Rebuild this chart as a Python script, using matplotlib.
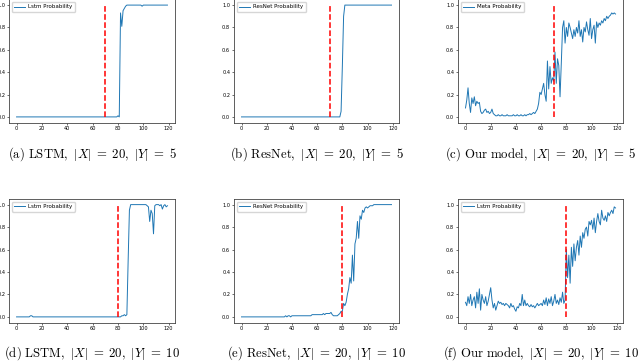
import numpy as np
import matplotlib
matplotlib.use("Agg")
import matplotlib.pyplot as plt

plt.rcParams['mathtext.fontset'] = 'cm'

# series values (x = 0 .. 119)
lstm_y5 = [0.0, 0.0, 0.0, 0.0, 0.0, 0.0, 0.0, 0.0, 0.0, 0.0,
           0.0, 0.0, 0.0, 0.0, 0.0, 0.0, 0.0, 0.0, 0.0, 0.0,
           0.0, 0.0, 0.0, 0.0, 0.0, 0.0, 0.0, 0.0, 0.0, 0.0,
           0.0, 0.0, 0.0, 0.0, 0.0, 0.0, 0.0, 0.0, 0.0, 0.0,
           0.0, 0.0, 0.0, 0.0, 0.0, 0.0, 0.0, 0.0, 0.0, 0.0,
           0.0, 0.0, 0.0, 0.0, 0.0, 0.0, 0.0, 0.0, 0.0, 0.0,
           0.0, 0.0, 0.0, 0.0, 0.0, 0.0, 0.0, 0.0, 0.0, 0.0,
           0.0, 0.0, 0.0, 0.0, 0.0, 0.0, 0.0, 0.0, 0.0, 0.0,
           0.01, 0.0, 0.93, 0.81, 0.95, 0.97, 0.99, 1.0, 1.0, 1.0,
           1.0, 1.0, 1.0, 1.0, 1.0, 1.0, 1.0, 1.0, 1.0, 0.99,
           1.0, 1.0, 1.0, 1.0, 1.0, 1.0, 1.0, 1.0, 1.0, 1.0,
           1.0, 1.0, 1.0, 1.0, 1.0, 1.0, 1.0, 1.0, 1.0, 1.0]

resnet_y5 = [0.0, 0.0, 0.0, 0.0, 0.0, 0.0, 0.0, 0.0, 0.0, 0.0,
             0.0, 0.0, 0.0, 0.0, 0.0, 0.0, 0.0, 0.0, 0.0, 0.0,
             0.0, 0.0, 0.0, 0.0, 0.0, 0.0, 0.0, 0.0, 0.0, 0.0,
             0.0, 0.0, 0.0, 0.0, 0.0, 0.0, 0.0, 0.0, 0.0, 0.0,
             0.0, 0.0, 0.0, 0.0, 0.0, 0.0, 0.0, 0.0, 0.0, 0.0,
             0.0, 0.0, 0.0, 0.0, 0.0, 0.0, 0.0, 0.0, 0.0, 0.0,
             0.0, 0.0, 0.0, 0.0, 0.0, 0.0, 0.0, 0.0, 0.0, 0.0,
             0.0, 0.0, 0.0, 0.0, 0.0, 0.0, 0.0, 0.0, 0.0, 0.05,
             0.45, 0.9, 1.0, 1.0, 1.0, 1.0, 1.0, 1.0, 1.0, 1.0,
             1.0, 1.0, 1.0, 1.0, 1.0, 1.0, 1.0, 1.0, 1.0, 1.0,
             1.0, 1.0, 1.0, 1.0, 1.0, 1.0, 1.0, 1.0, 1.0, 1.0,
             1.0, 1.0, 1.0, 1.0, 1.0, 1.0, 1.0, 1.0, 1.0, 1.0]

meta_y5 = [0.08, 0.15, 0.26, 0.12, 0.04, 0.17, 0.12, 0.18, 0.10, 0.14,
           0.12, 0.13, 0.05, 0.03, 0.04, 0.06, 0.07, 0.04, 0.05, 0.03,
           0.04, 0.07, 0.03, 0.02, 0.01, 0.01, 0.02, 0.01, 0.01, 0.02,
           0.01, 0.01, 0.01, 0.02, 0.01, 0.01, 0.01, 0.01, 0.02, 0.01,
           0.01, 0.02, 0.01, 0.01, 0.02, 0.01, 0.01, 0.02, 0.01, 0.02,
           0.02, 0.03, 0.02, 0.03, 0.04, 0.03, 0.05, 0.07, 0.12, 0.22,
           0.20, 0.25, 0.30, 0.20, 0.14, 0.50, 0.25, 0.45, 0.30, 0.35,
           0.32, 0.58, 0.30, 0.52, 0.46, 0.18, 0.48, 0.80, 0.86, 0.66,
           0.80, 0.72, 0.84, 0.80, 0.75, 0.70, 0.78, 0.72, 0.80, 0.75,
           0.86, 0.72, 0.78, 0.67, 0.80, 0.76, 0.85, 0.78, 0.73, 0.88,
           0.70, 0.78, 0.82, 0.66, 0.85, 0.80, 0.84, 0.82, 0.86, 0.84,
           0.88, 0.86, 0.90, 0.88, 0.90, 0.91, 0.93, 0.92, 0.93, 0.92]

lstm_y10 = [0.0, 0.0, 0.0, 0.0, 0.0, 0.0, 0.0, 0.0, 0.0, 0.0,
            0.0, 0.01, 0.01, 0.0, 0.0, 0.0, 0.0, 0.0, 0.0, 0.0,
            0.0, 0.0, 0.0, 0.0, 0.0, 0.0, 0.0, 0.0, 0.0, 0.0,
            0.0, 0.0, 0.0, 0.0, 0.0, 0.0, 0.0, 0.0, 0.0, 0.0,
            0.0, 0.0, 0.0, 0.0, 0.0, 0.0, 0.0, 0.0, 0.0, 0.0,
            0.0, 0.0, 0.0, 0.0, 0.0, 0.0, 0.0, 0.0, 0.0, 0.0,
            0.0, 0.0, 0.0, 0.0, 0.0, 0.0, 0.0, 0.0, 0.0, 0.0,
            0.0, 0.0, 0.0, 0.0, 0.0, 0.0, 0.0, 0.0, 0.0, 0.0,
            0.0, 0.0, 0.0, 0.01, 0.01, 0.02, 0.01, 0.02, 0.5, 0.95,
            1.0, 1.0, 1.0, 1.0, 1.0, 1.0, 1.0, 1.0, 1.0, 1.0,
            1.0, 1.0, 1.0, 0.99, 0.98, 0.85, 0.95, 0.92, 0.74, 0.99,
            1.0, 1.0, 1.0, 0.99, 1.0, 0.96, 0.99, 1.0, 0.98, 0.99]

resnet_y10 = [0.0, 0.0, 0.0, 0.0, 0.0, 0.0, 0.0, 0.0, 0.0, 0.0,
              0.0, 0.0, 0.0, 0.0, 0.0, 0.0, 0.0, 0.0, 0.0, 0.0,
              0.0, 0.0, 0.0, 0.0, 0.0, 0.0, 0.0, 0.0, 0.0, 0.0,
              0.0, 0.0, 0.0, 0.0, 0.0, 0.01, 0.0, 0.01, 0.01, 0.0,
              0.01, 0.01, 0.01, 0.01, 0.01, 0.01, 0.01, 0.01, 0.01, 0.01,
              0.01, 0.01, 0.01, 0.01, 0.01, 0.01, 0.02, 0.02, 0.02, 0.02,
              0.02, 0.02, 0.02, 0.02, 0.02, 0.03, 0.02, 0.03, 0.03, 0.03,
              0.03, 0.04, 0.02, 0.01, 0.01, 0.01, 0.01, 0.02, 0.03, 0.05,
              0.05, 0.12, 0.10, 0.13, 0.20, 0.25, 0.35, 0.30, 0.55, 0.32,
              0.65, 0.70, 0.85, 0.70, 0.90, 0.87, 0.95, 0.93, 0.97, 0.98,
              0.97, 0.98, 0.99, 0.99, 0.99, 1.0, 1.0, 1.0, 1.0, 1.0,
              1.0, 1.0, 1.0, 1.0, 1.0, 1.0, 1.0, 1.0, 1.0, 1.0]

model_y10 = [0.13, 0.10, 0.18, 0.12, 0.20, 0.10, 0.15, 0.18, 0.08, 0.22,
             0.12, 0.25, 0.06, 0.20, 0.15, 0.12, 0.18, 0.10, 0.14, 0.20,
             0.26, 0.15, 0.08, 0.12, 0.06, 0.10, 0.14, 0.12, 0.13, 0.11,
             0.12, 0.10, 0.12, 0.11, 0.10, 0.08, 0.12, 0.09, 0.10, 0.07,
             0.05, 0.09, 0.08, 0.12, 0.10, 0.20, 0.10, 0.15, 0.10, 0.12,
             0.10, 0.09, 0.11, 0.09, 0.10, 0.08, 0.10, 0.12, 0.10, 0.11,
             0.12, 0.10, 0.15, 0.11, 0.17, 0.10, 0.16, 0.12, 0.18, 0.10,
             0.14, 0.20, 0.12, 0.15, 0.11, 0.17, 0.13, 0.22, 0.12, 0.15,
             0.60, 0.35, 0.55, 0.30, 0.62, 0.45, 0.65, 0.50, 0.62, 0.68,
             0.55, 0.72, 0.62, 0.75, 0.70, 0.78, 0.80, 0.72, 0.85, 0.82,
             0.86, 0.78, 0.88, 0.75, 0.85, 0.92, 0.85, 0.82, 0.95, 0.88,
             0.86, 0.90, 0.85, 0.93, 0.90, 0.93, 0.95, 0.92, 0.98, 0.97]

series = [lstm_y5, resnet_y5, meta_y5, lstm_y10, resnet_y10, model_y10]
labels = ['Lstm Probability', 'ResNet Probability', 'Meta Probability',
          'Lstm Probability', 'ResNet Probability', 'Lstm Probability']
change_points = [70, 70, 70, 80, 80, 80]
captions = [r'$\mathrm{(a)\ LSTM,}\ |X|\;=\;20,\ |Y|\;=\;5$',
            r'$\mathrm{(b)\ ResNet,}\ |X|\;=\;20,\ |Y|\;=\;5$',
            r'$\mathrm{(c)\ Our\ model,}\ |X|\;=\;20,\ |Y|\;=\;5$',
            r'$\mathrm{(d)\ LSTM,}\ |X|\;=\;20,\ |Y|\;=\;10$',
            r'$\mathrm{(e)\ ResNet,}\ |X|\;=\;20,\ |Y|\;=\;10$',
            r'$\mathrm{(f)\ Our\ model,}\ |X|\;=\;20,\ |Y|\;=\;10$']

W, H = 640, 361
fig = plt.figure(figsize=(W / 100, H / 100), dpi=100)

# axes boxes in pixels: left, width / top, bottom, caption centre
cols = [(9, 166), (234, 165), (458, 165)]
rows = [(-0.5, 122.5, 154), (199, 322.5, 353)]

for i in range(6):
    r, c = divmod(i, 3)
    left, width = cols[c]
    top, bottom, cap_y = rows[r]
    ax = fig.add_axes([left / W, 1 - bottom / H, width / W, (bottom - top) / H])
    y = series[i]
    x = np.arange(len(y))
    ax.plot(x, y, color='#1f77b4', lw=0.7, label=labels[i])
    ax.vlines(change_points[i], 0, 1, colors='r', linestyles='--', lw=1.1)
    ax.set_xticks([0, 20, 40, 60, 80, 100, 120])
    ax.set_yticks([0.0, 0.2, 0.4, 0.6, 0.8, 1.0])
    ax.tick_params(labelsize=3.6, length=1.5, width=0.4, pad=1.2)
    for s in ax.spines.values():
        s.set_linewidth(0.6)
        s.set_color('#444444')
    ax.legend(loc='upper left', fontsize=4, handlelength=2.0, handletextpad=0.6,
              borderpad=0.45, borderaxespad=0.45, framealpha=0.8)
    fig.text((left + width / 2) / W, 1 - cap_y / H, captions[i],
             ha='center', va='center', fontsize=9.2)

fig.savefig('out.png', dpi=100)
